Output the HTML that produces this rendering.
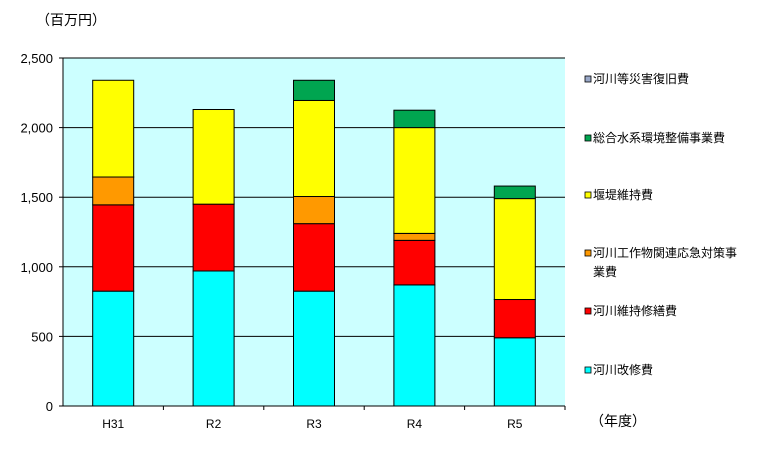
<!DOCTYPE html>
<html><head><meta charset="utf-8"><style>
html,body{margin:0;padding:0;background:#fff;}
svg{display:block;font-family:"Liberation Sans","Noto Sans CJK JP",sans-serif;}
</style></head><body>
<svg id="chart" width="779" height="466" viewBox="0 0 779 466" xmlns="http://www.w3.org/2000/svg">
<text x="36" y="25" font-size="14" fill="#000">（百万円）</text>
<text x="590" y="426" font-size="14" fill="#000">（年度）</text>
<g id="plot"></g>
<g id="legend"></g>
</svg>
<script>
const categories = ["H31","R2","R3","R4","R5"];
const seriesNames = ["河川改修費","河川維持修繕費","河川工作物関連応急対策事業費","堰堤維持費","総合水系環境整備事業費","河川等災害復旧費"];
const kaishu = [825, 970, 825, 870, 490];
const ijiShuzen = [620, 480, 485, 320, 275];
const oukyu = [200, 0, 195, 50, 0];
const entei = [695, 680, 690, 760, 725];
const suikei = [0, 0, 145, 125, 90];
const saigai = [0, 0, 0, 0, 0];
const yTicks = [0, 500, 1000, 1500, 2000, 2500];
const yTickLabels = ["0","500","1,000","1,500","2,000","2,500"];
const colors = ["#00FFFF","#FF0000","#FF9900","#FFFF00","#00A550","#99A8C8"];
const series = [kaishu, ijiShuzen, oukyu, entei, suikei, saigai];

const NS = "http://www.w3.org/2000/svg";
const L = 63, R = 565, T = 58, B = 406, MAX = 2500;
const y = v => B - v / MAX * (B - T);
const band = (R - L) / categories.length;
const x = i => L + band * (i + 0.5);
const BW = 41;
const plot = document.getElementById("plot");
function mk(tag, attrs, parent) {
  const e = document.createElementNS(NS, tag);
  for (const k in attrs) e.setAttribute(k, attrs[k]);
  parent.appendChild(e);
  return e;
}
const bg = mk("rect", {x: L, y: T, width: R - L, height: B - T, fill: "#CCFFFF"}, plot);


yTicks.forEach((t, i) => {
  if (t > 0) {
    const g = mk("line", {x1: L, x2: R, y1: y(t), y2: y(t), stroke: "#000", "stroke-width": 1}, plot);
    
    
  }
  const tk = mk("line", {x1: L - 4, x2: L, y1: y(t), y2: y(t), stroke: "#000"}, plot);
  
  
  const lb = mk("text", {x: L - 10, y: y(t) + 5, "text-anchor": "end", "font-size": 13, fill: "#000"}, plot);
  lb.textContent = yTickLabels[i];
  
  
});
categories.forEach((c, i) => {
  let acc = 0;
  series.forEach((s, si) => {
    const v = s[i];
    if (v > 0) {
      const r = mk("rect", {x: x(i) - BW / 2, y: y(acc + v), width: BW, height: y(acc) - y(acc + v), fill: colors[si], stroke: "#000", "stroke-width": 1}, plot);
      
      
    }
    acc += v;
  });
  const tk = mk("line", {x1: L + band * (i + 1), x2: L + band * (i + 1), y1: B, y2: B + 4, stroke: "#000"}, plot);
  
  
  const lb = mk("text", {x: x(i), y: B + 22, "text-anchor": "middle", "font-size": 12, fill: "#000"}, plot);
  lb.textContent = c;
  
  
});
const ax = mk("line", {x1: L, x2: L, y1: T, y2: B, stroke: "#000"}, plot);


const ax2 = mk("line", {x1: L, x2: R, y1: B, y2: B, stroke: "#000"}, plot);



const legend = document.getElementById("legend");
const legY = [370, 311, 253, 195, 138, 79];
seriesNames.forEach((n, i) => {
  const g = mk("g", {}, legend);
  
  
  mk("rect", {x: 585, y: legY[i] - 3, width: 6, height: 6, fill: colors[i], stroke: "#000", "stroke-width": 0.8}, g);
  const t = mk("text", {x: 593, y: legY[i] + 4, "font-size": 12, fill: "#000"}, g);
  if (i === 2) {
    t.textContent = "河川工作物関連応急対策事";
    const t2 = mk("text", {x: 593, y: legY[i] + 23, "font-size": 12, fill: "#000"}, g);
    t2.textContent = "業費";
  } else t.textContent = n;
});
</script>
</body></html>
